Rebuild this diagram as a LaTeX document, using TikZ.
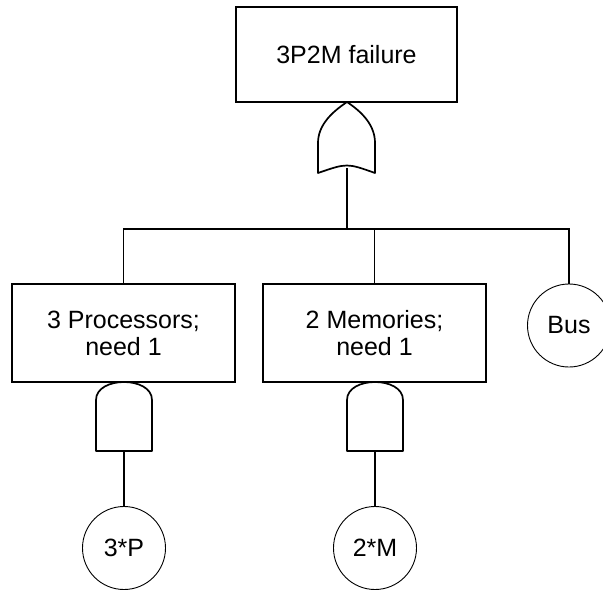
\documentclass[tikz,border=0pt]{standalone}
\usepackage{fontspec}
\setmainfont{Liberation Sans}

\begin{document}
\begin{tikzpicture}[x=1pt,y=-1pt,
		event/.style={draw,line width=1.3pt,inner sep=0pt,align=center,font=\fontsize{25}{27}\selectfont},
		basic/.style={draw,circle,line width=0.9pt,minimum size=83pt,inner sep=0pt,font=\fontsize{25}{27}\selectfont},
		gate/.style={line width=1.7pt,line join=round},
		wire/.style={line width=1.6pt}]
		\useasboundingbox (0,0) rectangle (603,590);
		
		% Top event
		\node[event,minimum width=221pt,minimum height=95pt] (sys) at (346.5,54.5) {3P2M failure};
		
		% Intermediate events
		\node[event,minimum width=223pt,minimum height=98pt] (proc) at (123.5,333) {3 Processors;\\need 1};
		\node[event,minimum width=223pt,minimum height=98pt] (mem) at (374.5,333) {2 Memories;\\need 1};
		
		% Basic events
		\node[basic] (bus) at (569,325.5) {Bus};
		\node[basic] (procs) at (124,548) {3*P};
		\node[basic] (mems) at (375,548) {2*M};
		
		% OR gate
		\coordinate (orout) at (347,102);
		\coordinate (orin) at (347,168);
		\draw[gate] (318,173) -- (318,143) .. controls (318,125) and (332,112) .. (orout)
			.. controls (362,112) and (375,125) .. (375,143) -- (375,173)
			.. controls (347,163) .. (318,173) -- cycle;
		
		% Bar under the OR gate
		\coordinate (bar) at (347,229);
		\draw[wire] (orin) -- (bar);
		\draw[wire] (proc.north) |- (bar) -| (bus.north);
		\draw[wire] (mem.north) -- (mem.north |- bar);
		
		% AND gates
		\coordinate (pin) at (124,451);
		\coordinate (min) at (375,451);
		\draw[gate] (96,451) -- (96,400) .. controls (96,376) and (152,376) .. (152,400) -- (152,451) -- cycle;
		\draw[gate] (347,451) -- (347,400) .. controls (347,376) and (403,376) .. (403,400) -- (403,451) -- cycle;
		\draw[wire] (pin) -- (procs.north);
		\draw[wire] (min) -- (mems.north);
	\end{tikzpicture}
\end{document}
